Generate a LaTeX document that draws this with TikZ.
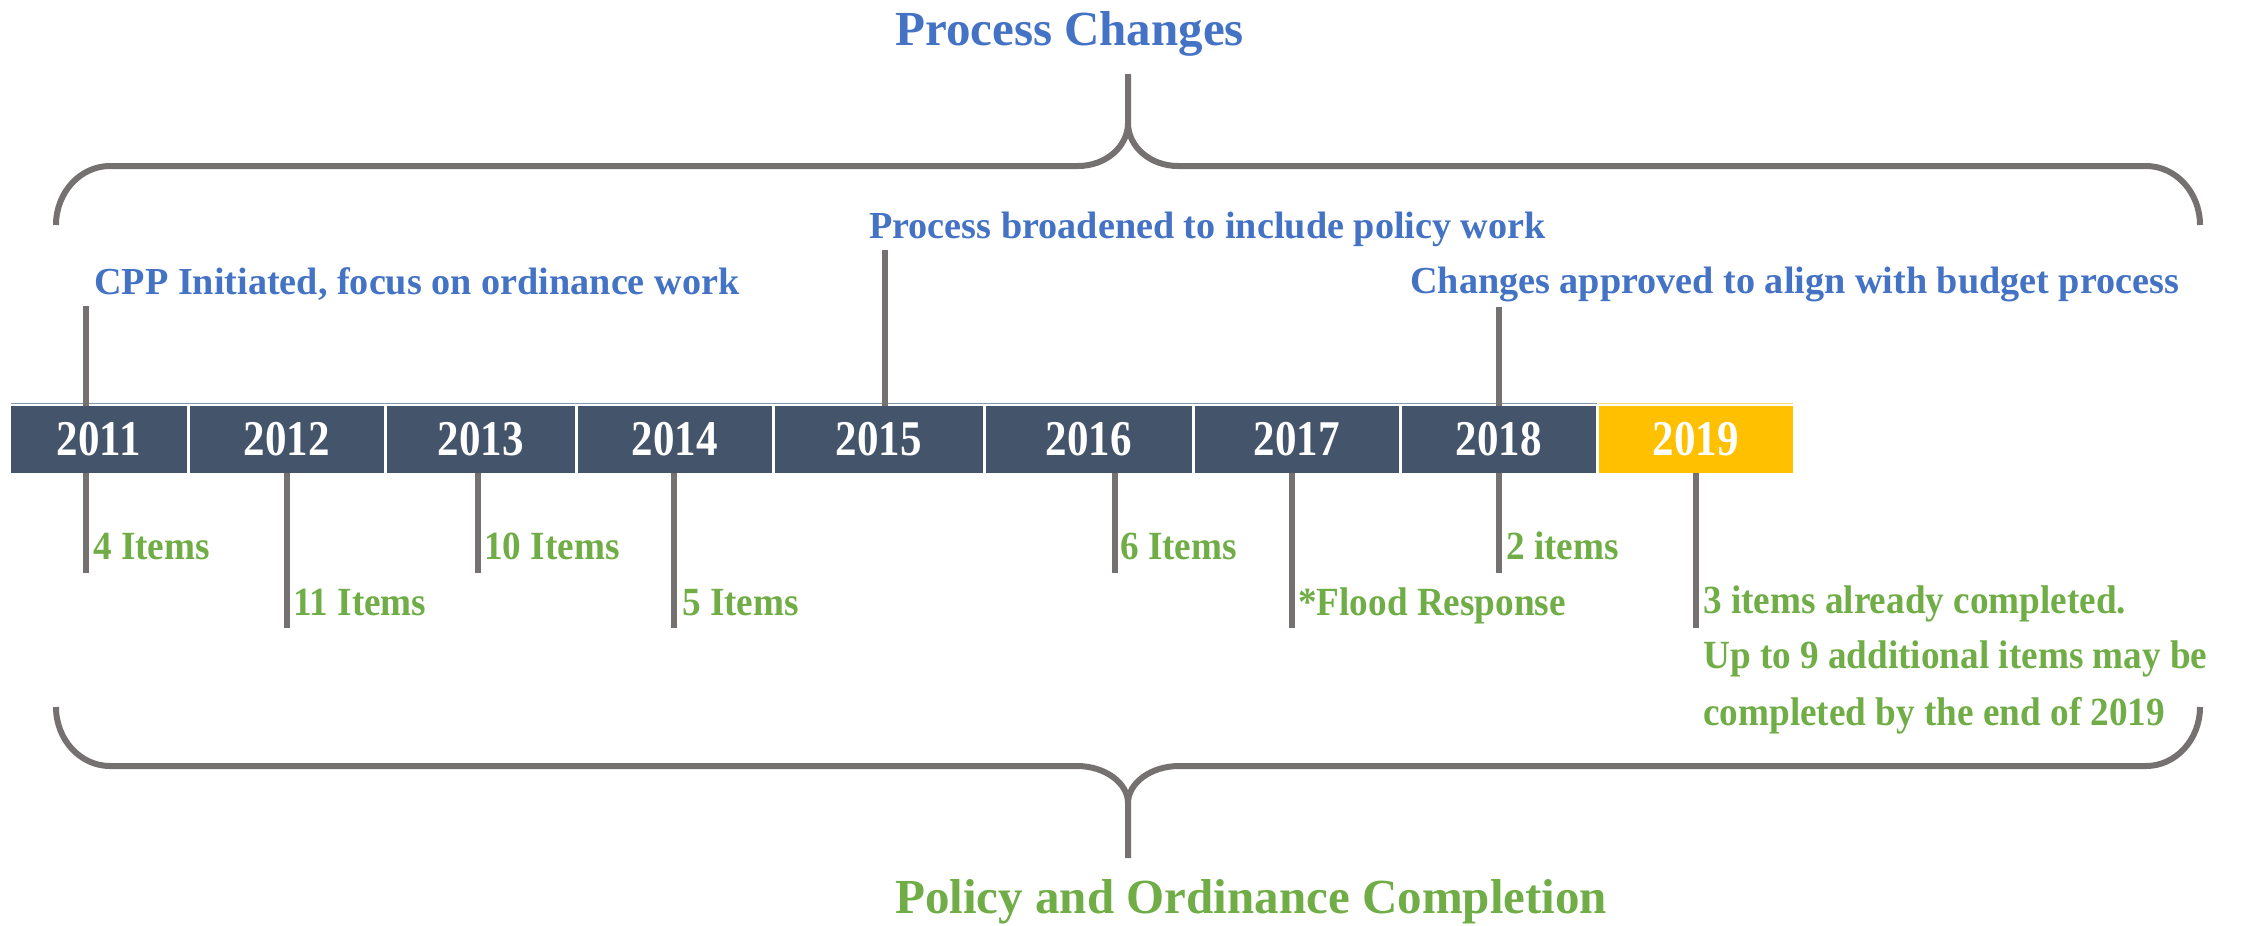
\documentclass[tikz,border=0pt]{standalone}
\usepackage{fontspec}
\setmainfont{Liberation Serif}
\newfontfamily\condfont[FakeStretch=0.93]{Liberation Serif}
\newfontfamily\yearfont[FakeStretch=0.86]{Liberation Serif}
\definecolor{slate}{HTML}{44546A}
\definecolor{gold}{HTML}{FFC000}
\definecolor{stemgray}{HTML}{767171}
\definecolor{tblue}{HTML}{4472C4}
\definecolor{tgreen}{HTML}{70AD47}
\definecolor{slateline}{HTML}{8497B0}
\definecolor{goldline}{HTML}{FFD966}
\begin{document}
\begin{tikzpicture}[x=1pt,y=-1pt,
  yearcell/.style={draw=none, inner sep=0pt, minimum height=66.7pt, text=white,
    font=\yearfont\fontsize{50}{50}\selectfont\bfseries},
  bluelbl/.style={anchor=base west, inner sep=0pt, text=tblue,
    font=\fontsize{38.2}{38.2}\selectfont\bfseries},
  greenlbl/.style={anchor=base west, inner sep=0pt, text=tgreen,
    font=\condfont\fontsize{40}{40}\selectfont\bfseries},
  titlelbl/.style={anchor=base west, inner sep=0pt,
    font=\fontsize{49}{49}\selectfont\bfseries},
  stem/.style={draw=stemgray, line width=6pt},
  brace/.style={draw=stemgray, line width=6pt},
  topline/.style={line width=1.5pt}]
\useasboundingbox (0,0) rectangle (2244,926);

% titles
\node[titlelbl, text=tblue] (ttop) at (895,45) {Process Changes};
\node[titlelbl, text=tgreen] (tbot) at (895,913) {Policy and Ordinance Completion};

% top brace
\draw[brace] (56,225) .. controls (56,192.4) and (80.2,166) .. (110,166) -- (1078,166)
  .. controls (1105.6,166) and (1128,146.7) .. (1128,123) -- (1128,74);
\draw[brace] (1128,123) .. controls (1128,146.7) and (1150.4,166) .. (1178,166) -- (2146,166)
  .. controls (2175.8,166) and (2200,192.4) .. (2200,225);

% bottom brace
\draw[brace] (56,707) .. controls (56,739.6) and (80.2,766) .. (110,766) -- (1077,766)
  .. controls (1105,766) and (1128,783) .. (1128,803) -- (1128,858);
\draw[brace] (1128,803) .. controls (1128,783) and (1151,766) .. (1179,766) -- (2146,766)
  .. controls (2175.8,766) and (2200,739.6) .. (2200,707);

% bar top lines
\draw[topline, draw=slateline] (11,403.3) -- (1597,403.3);
\draw[topline, draw=goldline] (1598.5,403.3) -- (1793,403.3);

% year cells
\foreach \l/\r/\yr/\col in {11/186.5/2011/slate, 189.5/383.5/2012/slate, 386.5/574.5/2013/slate,
  577.5/771.5/2014/slate, 774.5/982.5/2015/slate, 985.5/1191.5/2016/slate,
  1194.5/1398.5/2017/slate, 1401.5/1595.5/2018/slate, 1598.5/1793/2019/gold}{
  \pgfmathsetmacro{\cx}{(\l+\r)/2}
  \pgfmathsetmacro{\cw}{\r-\l}
  \node[yearcell, fill=\col, minimum width=\cw pt] (y\yr) at (\cx,439.3) {\raisebox{-3pt}{\yr}};
}

% upper event labels and stems
\node[bluelbl] (ev11) at (94,294) {CPP Initiated, focus on ordinance work};
\node[bluelbl] (ev15) at (869,238) {Process broadened to include policy work};
\node[bluelbl] (ev18) at (1410,293) {Changes approved to align with budget process};
\coordinate (u11) at (86,306);
\coordinate (u15) at (885,250);
\coordinate (u18) at (1499,307);
\draw[stem] (u11) -- (u11 |- y2011.north);
\draw[stem] (u15) -- (u15 |- y2015.north);
\draw[stem] (u18) -- (u18 |- y2018.north);

% lower stems
\coordinate (d11) at (86,572.7);
\coordinate (d12) at (287,628);
\coordinate (d13) at (478,572.7);
\coordinate (d14) at (674,628);
\coordinate (d16) at (1115,572.7);
\coordinate (d17) at (1292,628);
\coordinate (d18) at (1499,572.7);
\coordinate (d19) at (1696,628);
\draw[stem] (d11 |- y2011.south) -- (d11);
\draw[stem] (d12 |- y2012.south) -- (d12);
\draw[stem] (d13 |- y2013.south) -- (d13);
\draw[stem] (d14 |- y2014.south) -- (d14);
\draw[stem] (d16 |- y2016.south) -- (d16);
\draw[stem] (d17 |- y2017.south) -- (d17);
\draw[stem] (d18 |- y2018.south) -- (d18);
\draw[stem] (d19 |- y2019.south) -- (d19);

% item labels
\node[greenlbl] (i11) at (93,559) {4 Items};
\node[greenlbl] (i12) at (293,615) {11 Items};
\node[greenlbl] (i13) at (484,559) {10 Items};
\node[greenlbl] (i14) at (682,615) {5 Items};
\node[greenlbl] (i16) at (1120,559) {6 Items};
\node[greenlbl] (i17) at (1298,615) {*Flood Response};
\node[greenlbl] (i18) at (1506,559) {2 items};
\node[greenlbl] (i19a) at (1703,613) {3 items already completed.};
\node[greenlbl] (i19b) at (1703,668) {Up to 9 additional items may be};
\node[greenlbl] (i19c) at (1703,725) {completed by the end of 2019};
\end{tikzpicture}
\end{document}
